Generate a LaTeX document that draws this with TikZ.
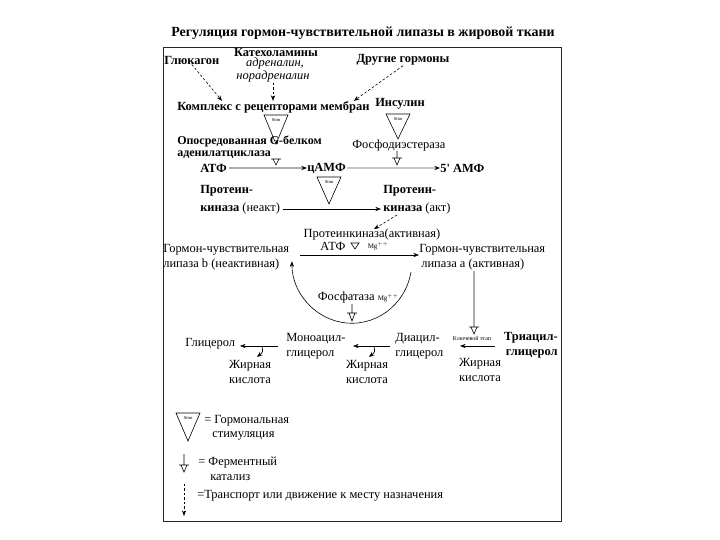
\documentclass[tikz,border=0pt]{standalone}
\usepackage{fontspec}
\setmainfont{Liberation Serif}
\usetikzlibrary{arrows.meta}

\begin{document}
\begin{tikzpicture}[x=1bp, y=-1bp, >={Stealth[length=2mm]}, line width=0.6pt,
  lbl/.style={inner sep=0pt, font=\fontsize{12.5}{15}\selectfont},
  blbl/.style={inner sep=0pt, font=\fontsize{12.5}{15}\selectfont\bfseries},
  ilbl/.style={inner sep=0pt, font=\fontsize{12.5}{15}\selectfont\itshape},
  tinylbl/.style={inner sep=0pt, font=\fontsize{6}{7}\selectfont},
  stimlbl/.style={inner sep=0pt, font=\fontsize{4.5}{5}\selectfont},
  movearrow/.style={->, dashed, dash pattern=on 2.5pt off 2pt},
  grayline/.style={gray!65, line width=1.6pt}]
  \useasboundingbox (0,0) rectangle (720,540);
  % title and frame
  \node[blbl, font=\fontsize{14}{16}\selectfont\bfseries] (title) at (363,33) {Регуляция гормон-чувствительной липазы в жировой ткани};
  \draw[line width=0.8pt, black!85] (163,47) rectangle (561,521);
  % hormones
  \node[blbl, anchor=west] (gluc) at (164,60) {Глюкагон};
  \node[blbl] (cat) at (276,52) {Катехоламины};
  \node[ilbl] (adr) at (275,64) {адреналин,};
  \node[ilbl] (nadr) at (273,77) {норадреналин};
  \node[blbl] (other) at (403,60) {Другие гормоны};
  \node[blbl, anchor=west] (cmplx) at (177,107) {Комплекс с рецепторами мембран};
  \node[blbl] (ins) at (400,104) {Инсулин};
  \draw[movearrow] (gluc.south) -- ([xshift=45bp]cmplx.north west);
  \draw[movearrow] (nadr.south) -- (nadr.south |- cmplx.north);
  \draw[movearrow] (other.south) -- ([xshift=-16bp]cmplx.north east);
  % stim from receptors
  \draw (264,115) -- (288,115) -- (276,144) -- cycle;
  \node[stimlbl] (stima) at (276,120) {Stim};
  % stim from insulin
  \draw (386,114) -- (410,114) -- (398,139) -- cycle;
  \node[stimlbl] (stimb) at (398,119) {Stim};
  % adenylate cyclase, phosphodiesterase
  \node[blbl, anchor=west, font=\fontsize{12}{14}\selectfont\bfseries] (gprot) at (177,141) {Опосредованная G-белком};
  \node[blbl, anchor=west, font=\fontsize{12}{14}\selectfont\bfseries] (adcyc) at (177,155) {аденилатциклаза};
  \node[lbl, anchor=west] (pde) at (352,146) {Фосфодиэстераза};
  \draw (271,159) -- (281,159) (273,159) -- (276,165) -- (279,159);
  \draw (397,151) -- (397,158) (392,158) -- (402,158) (394,158) -- (397,165) -- (400,158);
  % cAMP line
  \node[blbl, anchor=west] (atp) at (200,168) {АТФ};
  \node[blbl, anchor=west] (camp) at (307,168) {цАМФ};
  \node[blbl, anchor=west] (amp) at (440,168) {5\textquotesingle{} АМФ};
  \draw[grayline, -{Stealth[black, length=2mm]}, shorten <=2pt] (atp) -- (camp);
  \draw[grayline, gray!45, -{Stealth[black, length=2mm]}, shorten <=1pt] (camp) -- (amp);
  % stim from cAMP
  \draw (317,177) -- (341,177) -- (329,204) -- cycle;
  \node[stimlbl] (stimc) at (329,182) {Stim};
  % protein kinase
  \node[blbl, anchor=west] (pkia) at (200,191) {Протеин-};
  \node[lbl, anchor=west] (pkib) at (200,209) {\textbf{киназа} (неакт)};
  \node[blbl, anchor=west] (pkaa) at (383,191) {Протеин-};
  \node[lbl, anchor=west] (pkab) at (383,209) {\textbf{киназа} (акт)};
  \draw[->, shorten <=3pt, shorten >=2pt] (pkib) -- (pkab);
  \node[lbl] (pkact) at (372,235) {Протеинкиназа(активная)};
  \draw[movearrow] ([xshift=14bp]pkab.south west) -- ([xshift=2bp]pkact.north);
  % lipase b -> lipase a
  \node[lbl, anchor=west] (hslba) at (163,250) {Гормон-чувствительная};
  \node[lbl, anchor=west] (hslbb) at (163,265) {липаза b (неактивная)};
  \node[lbl, anchor=west] (hslaa) at (419,250) {Гормон-чувствительная};
  \node[lbl, anchor=west] (hslab) at (421,265) {липаза а (активная)};
  \node[lbl] (atpb) at (333,246) {АТФ};
  \draw (351,243) -- (359,243) -- (355,249) -- cycle;
  \node[inner sep=0pt, font=\fontsize{7}{8}\selectfont] (mga) at (378,246) {Mg$^{++}$};
  \coordinate (phin) at (300,255);
  \draw[->] (phin) -- (phin -| hslaa.west);
  % phosphatase back
  \coordinate (arcr) at (411,272);
  \draw[->] (arcr) arc[start angle=10, end angle=180, x radius=60, y radius=62];
  \node[lbl] (phosph) at (358,298) {Фосфатаза {\fontsize{7}{8}\selectfont Mg$^{++}$}};
  \draw (352,304) -- (352,313) (347,313) -- (357,313) (349,313) -- (352,321) -- (355,313);
  % key step
  \coordinate (keyc) at (474,327);
  \draw[grayline, line width=1.2pt] (hslab.south -| keyc) -- (keyc);
  \draw (469,327) -- (479,327) (471,327) -- (474,334) -- (477,327);
  \node[tinylbl] (key) at (472,338) {Ключевой этап};
  % lipolysis
  \node[blbl, anchor=east] (taga) at (558,338) {Триацил-};
  \node[blbl, anchor=east] (tagb) at (558,354) {глицерол};
  \node[lbl] (ffaa) at (480,364) {Жирная};
  \node[lbl] (ffab) at (480,379) {кислота};
  \node[lbl, anchor=west] (daga) at (395,339) {Диацил-};
  \node[lbl, anchor=west] (dagb) at (395,355) {глицерол};
  \node[lbl] (ffac) at (367,366) {Жирная};
  \node[lbl] (ffad) at (367,381) {кислота};
  \node[lbl, anchor=west] (maga) at (286,339) {Моноацил-};
  \node[lbl, anchor=west] (magb) at (286,355) {глицерол};
  \node[lbl] (ffae) at (250,366) {Жирная};
  \node[lbl] (ffaf) at (250,381) {кислота};
  \node[lbl, anchor=west] (glyc) at (185,344) {Глицерол};
  \coordinate (tgin) at (495,346);
  \coordinate (tgout) at (460,346);
  \draw[->] (tgin) -- (tgout);
  \coordinate (dgin) at (390,346);
  \coordinate (dgout) at (353,346);
  \draw[->] (dgin) -- (dgout);
  \draw[->] (374,346) .. controls (375,352) .. (369,357);
  \coordinate (mgin) at (278,346);
  \coordinate (mgout) at (240,346);
  \draw[->] (mgin) -- (mgout);
  \draw[->] (262,346) .. controls (263,352) .. (257,357);
  % legend
  \draw (176,413) -- (200,413) -- (188,441) -- cycle;
  \node[stimlbl] (stimd) at (188,418) {Stim};
  \node[lbl, anchor=west] (lgaa) at (204,421) {= Гормональная};
  \node[lbl, anchor=west] (lgab) at (212,436) {стимуляция};
  \draw (184,454) -- (184,465) (179,465) -- (189,465) (181,465) -- (184,472) -- (187,465);
  \node[lbl, anchor=west] (lgba) at (198,463) {= Ферментный};
  \node[lbl, anchor=west] (lgbb) at (210,478) {катализ};
  \coordinate (lgtop) at (184,484);
  \coordinate (lgbot) at (184,516);
  \draw[movearrow] (lgtop) -- (lgbot);
  \node[lbl, anchor=west] (lgc) at (197,496) {=Транспорт или движение к месту назначения};
\end{tikzpicture}
\end{document}
